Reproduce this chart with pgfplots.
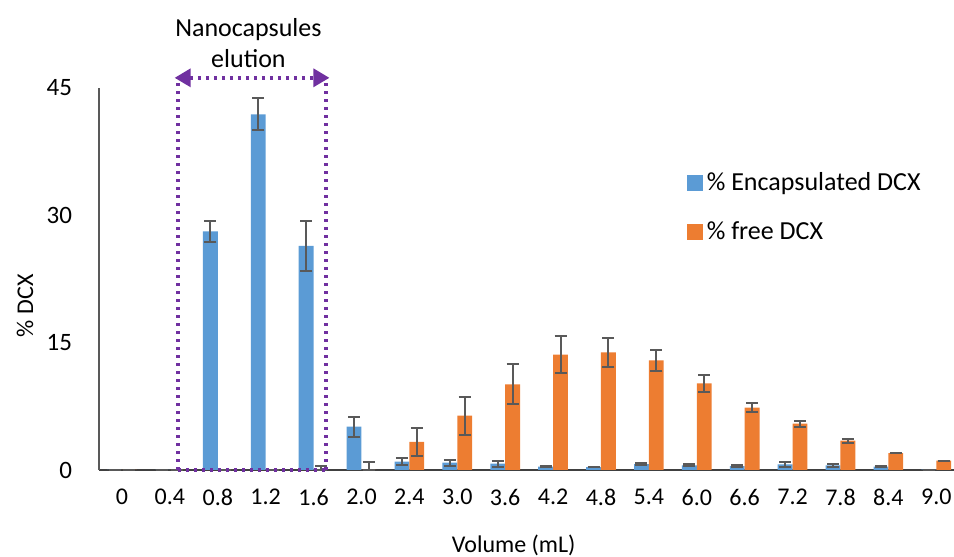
\documentclass[border=0pt]{standalone}
\usepackage{fontspec}
\setmainfont{Carlito}
\usepackage{pgfplots}
\usepackage{pgfplotstable}
\pgfplotsset{compat=1.18}
\usetikzlibrary{arrows.meta}
\definecolor{enc}{HTML}{5B9BD5}
\definecolor{fre}{HTML}{ED7D31}
\definecolor{lila}{HTML}{7030A0}
\definecolor{errc}{HTML}{595959}

% idx, % encapsulated (+/-), % free (+/-)
\pgfplotstableread{
idx enc encp encm fre frep frem
0  0     0    0    0     0    0
1  0     0    0    0     0    0
2  28.1  1.2  1.2  0     0    0
3  41.9  1.9  1.9  0     0    0
4  26.4  2.9  2.9  0     0.5  0
5  5.1   1.2  1.2  0     1.0  0
6  1.0   0.4  0.4  3.3   1.7  1.7
7  0.86  0.35 0.35 6.4   2.25 2.25
8  0.75  0.35 0.35 10.1  2.35 2.35
9  0.4   0.1  0.1  13.6  2.15 2.15
10 0.35  0.05 0.05 13.85 1.7  1.7
11 0.7   0.15 0.15 12.9  1.25 1.25
12 0.55  0.1  0.1  10.2  1.0  1.0
13 0.47  0.1  0.1  7.35  0.55 0.55
14 0.65  0.3  0.3  5.45  0.35 0.35
15 0.55  0.15 0.15 3.45  0.25 0.25
16 0.4   0.1  0.1  2.0   0    0
17 0.05  0    0    1.1   0    0
}\dcx

\begin{document}
\begin{tikzpicture}
\begin{axis}[
    scale only axis,
    width=427.5pt, height=191pt,
    xmin=-0.48, xmax=17.37,
    ymin=0, ymax=45,
    clip=false,
    axis x line=bottom, axis y line=left,
    x axis line style={-, draw=black!75, line width=0.8pt},
    y axis line style={-, draw=black!65, line width=0.8pt},
    xtick={0,...,17},
    xticklabels={0,0.4,0.8,1.2,1.6,2.0,2.4,3.0,3.6,4.2,4.8,5.4,6.0,6.6,7.2,7.8,8.4,9.0},
    ytick={0,15,30,45},
    major tick length=0pt,
    tick label style={font=\fontsize{12}{14}\selectfont},
    /pgf/number format/assume math mode=true,
    xticklabel style={yshift=-6pt},
    yticklabel style={font=\fontsize{12.5}{14}\selectfont, xshift=-10pt},
    xlabel={Volume (mL)},
    ylabel={\% DCX},
    label style={font=\fontsize{12}{14}\selectfont},
    xlabel style={at={(axis description cs:0.485,0)}, anchor=center, yshift=-37.5pt},
    ylabel style={at={(axis description cs:-0.0866,0.43)}, anchor=center},
    legend style={at={(axis description cs:0.68,0.80)}, anchor=north west,
        draw=none, fill=none, font=\fontsize{13}{15}\selectfont,
        row sep=10pt, legend cell align=left},
    legend image code/.code={\fill[#1] (0pt,-4pt) rectangle (8pt,4pt);},
    error bars/error bar style={line width=1pt, draw=errc},
    error bars/error mark options={rotate=90, mark size=3pt, line width=1pt, draw=errc},
]
\coordinate (o) at (rel axis cs:0,0);
\addplot[ybar, bar width=0.31, bar shift=0, fill=enc, draw=none,
    error bars/.cd, y dir=both, y explicit]
    table[x expr=\thisrow{idx}-0.155, y=enc, y error plus=encp, y error minus=encm] {\dcx};
\addplot[ybar, bar width=0.31, bar shift=0, fill=fre, draw=none,
    error bars/.cd, y dir=both, y explicit]
    table[x expr=\thisrow{idx}+0.155, y=fre, y error plus=frep, y error minus=frem] {\dcx};
\legend{\% Encapsulated DCX, \% free DCX}

% elution window
\draw[lila, line width=1.7pt, dash pattern=on 1.7pt off 2.3pt]
    (axis cs:1.17,0) -- (axis cs:1.17,46.2)
    (axis cs:4.26,0) -- (axis cs:4.26,46.2)
    (axis cs:1.17,0) -- (axis cs:4.26,0);
\draw[lila, line width=1.7pt, dash pattern=on 1.7pt off 2.3pt,
    {Triangle[length=8pt,width=9pt]}-{Triangle[length=8pt,width=9pt]}]
    (axis cs:1.10,46.2) -- (axis cs:4.33,46.2);
\node[align=center, font=\fontsize{13}{15.5}\selectfont]
    at (axis cs:2.64,50.35) {Nanocapsules\\elution};
\end{axis}
\pgfresetboundingbox
\path[use as bounding box] (o) ++(-49.5pt,-43.5pt) rectangle ++(477pt,278.5pt);
\end{tikzpicture}
\end{document}
